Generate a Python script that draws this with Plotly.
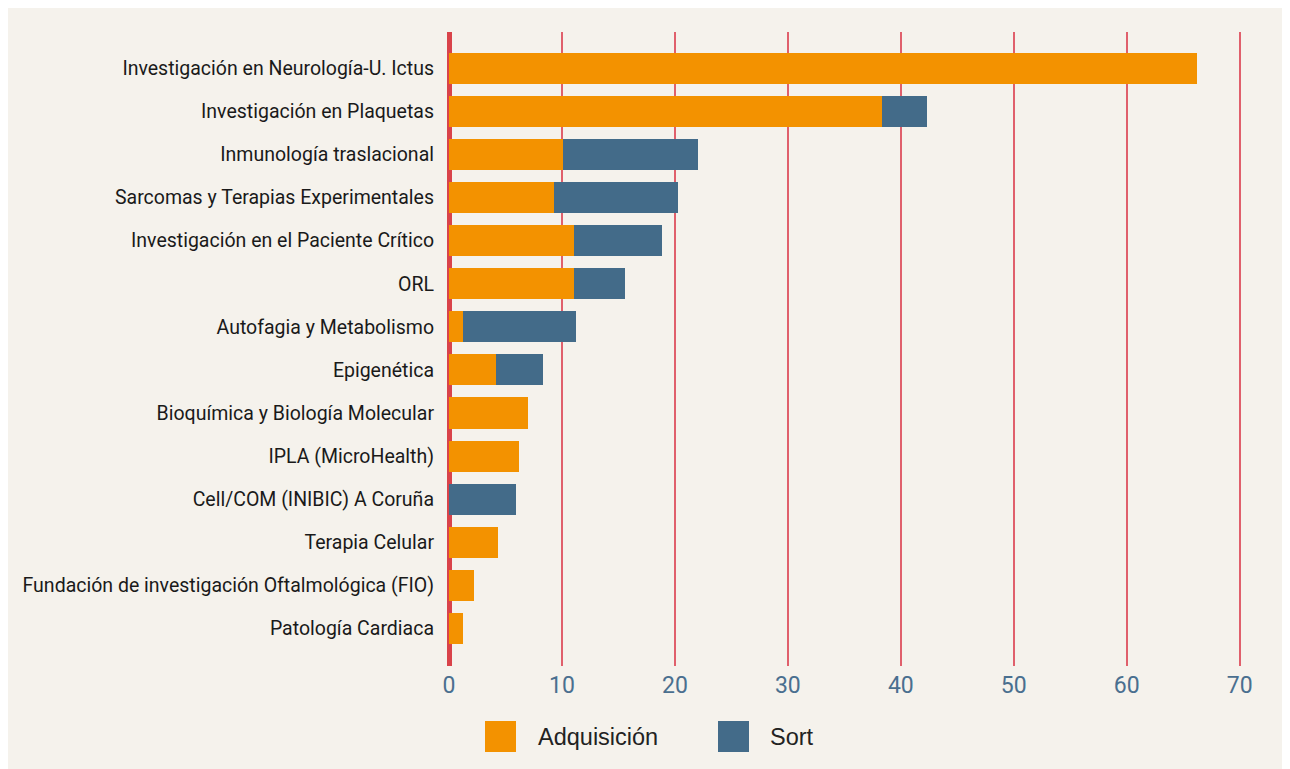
import plotly.graph_objects as go

categories = [
    "Investigación en Neurología-U. Ictus",
    "Investigación en Plaquetas",
    "Inmunología traslacional",
    "Sarcomas y Terapias Experimentales",
    "Investigación en el Paciente Crítico",
    "ORL",
    "Autofagia y Metabolismo",
    "Epigenética",
    "Bioquímica y Biología Molecular",
    "IPLA (MicroHealth)",
    "Cell/COM (INIBIC) A Coruña",
    "Terapia Celular",
    "Fundación de investigación Oftalmológica (FIO)",
    "Patología Cardiaca",
]
adquisicion = [66.2, 38.3, 10.1, 9.3, 11.1, 11.1, 1.2, 4.2, 7.0, 6.2, 0.0, 4.3, 2.2, 1.2]
sort_vals = [0.0, 4.0, 11.9, 11.0, 7.8, 4.5, 10.0, 4.1, 0.0, 0.0, 5.9, 0.0, 0.0, 0.0]
x_ticks = [0, 10, 20, 30, 40, 50, 60, 70]

ORANGE = "#f39200"
BLUE = "#436b89"
BG = "#f5f2ec"

W, H = 1290, 769
OFF = 8  # page body margin
ML, MR, MT, MB = 441, 47, 24, 111

fig = go.Figure()
fig.add_bar(y=categories, x=adquisicion, orientation="h", name="Adquisición",
            marker=dict(color=ORANGE, line=dict(width=0)))
fig.add_bar(y=categories, x=sort_vals, orientation="h", name="Sort",
            marker=dict(color=BLUE, line=dict(width=0)))

def px_x(p):
    return (p - OFF - ML) / (W - ML - MR)

def px_y(p):
    return (H - MB - (p - OFF)) / (H - MT - MB)

shapes = []
annotations = []
legend_items = [("Adquisición", ORANGE, 485, 536), ("Sort", BLUE, 718, 768)]
for name, col, sx, tx in legend_items:
    shapes.append(dict(type="rect", xref="paper", yref="paper",
                       x0=px_x(sx), x1=px_x(sx + 31), y0=px_y(752), y1=px_y(721),
                       fillcolor=col, line=dict(width=0)))
    annotations.append(dict(text=name, xref="paper", yref="paper", x=px_x(tx), y=px_y(737),
                            xanchor="left", yanchor="middle", showarrow=False,
                            font=dict(family="Liberation Sans, Arial", size=23.5, color="#222222")))

fig.update_layout(
    width=W, height=H,
    barmode="stack",
    bargap=0.28,
    showlegend=False,
    paper_bgcolor=BG,
    plot_bgcolor=BG,
    margin=dict(l=ML, r=MR, t=MT, b=MB, pad=0),
    shapes=shapes,
    annotations=annotations,
    xaxis=dict(
        range=[0, 71], tickvals=x_ticks, showgrid=True, gridcolor="#e0606c", gridwidth=1.5,
        zeroline=True, zerolinecolor="#d9434a", zerolinewidth=5, showline=False,
        tickfont=dict(family="Roboto", size=23, color="#4a6f8f"),
        ticks="", ticklabelstandoff=3,
    ),
    yaxis=dict(
        categoryorder="array", categoryarray=categories, range=[13.87, -0.84],
        showgrid=False, zeroline=False, showline=False, ticks="",
        tickfont=dict(family="Roboto", size=19.5, color="#1a1a1a"),
        ticklabelstandoff=14,
    ),
)

fig.write_html("out.html")
